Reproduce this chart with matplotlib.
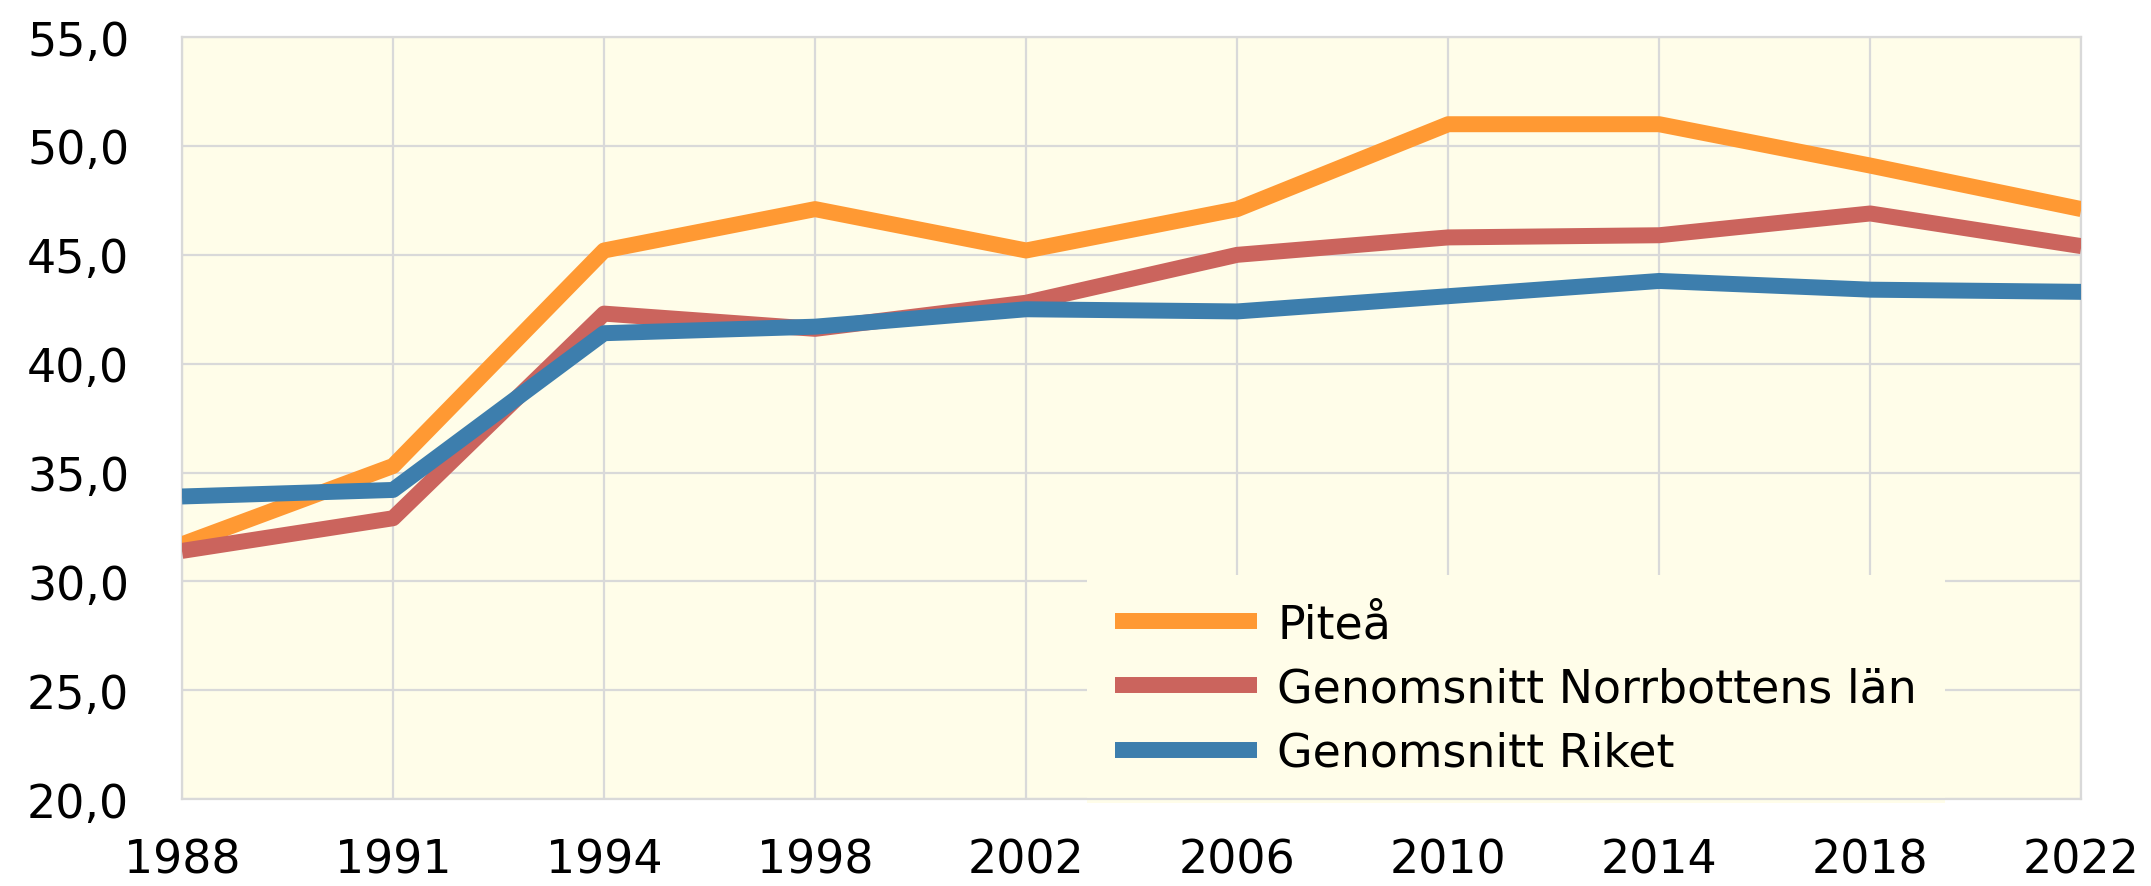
import matplotlib
matplotlib.use("Agg")
import matplotlib.pyplot as plt
import numpy as np

# data
years = ["1988", "1991", "1994", "1998", "2002", "2006", "2010", "2014", "2018", "2022"]
pitea = [31.7, 35.3, 45.2, 47.1, 45.2, 47.1, 51.0, 51.0, 49.1, 47.1]
norrbotten = [31.4, 32.9, 42.3, 41.6, 42.8, 45.0, 45.8, 45.9, 46.9, 45.4]
riket = [33.9, 34.2, 41.4, 41.7, 42.5, 42.4, 43.1, 43.8, 43.4, 43.3]
labels = ["Piteå", "Genomsnitt Norrbottens län", "Genomsnitt Riket"]
colors = ["#FF9933", "#CB645D", "#3D7EAD"]

plt.rcParams['font.family'] = ['DejaVu Sans']
bg = "#FFFDE9"
grid_c = "#D9D9D9"

fig = plt.figure(figsize=(21.51, 8.87), dpi=100)
ax = fig.add_axes([0.0846, 0.098, 0.883, 0.859])
ax.set_facecolor(bg)

x = np.arange(len(years))
for vals, lab, col in zip([pitea, norrbotten, riket], labels, colors):
    ax.plot(x, vals, color=col, lw=11.5, label=lab, solid_capstyle='butt', zorder=3)

ax.set_xlim(0, len(years) - 1)
ax.set_ylim(20, 55)
ax.set_xticks(x)
ax.set_xticklabels(years)
yt = np.arange(20, 56, 5)
ax.set_yticks(yt)
ax.set_yticklabels(["{:.1f}".format(v).replace(".", ",") for v in yt])
ax.tick_params(axis='both', length=0, labelsize=33, colors="#000000")
ax.tick_params(axis='y', pad=38)
ax.tick_params(axis='x', pad=28)
ax.grid(True, color=grid_c, lw=1.6, zorder=1)
for s in ax.spines.values():
    s.set_color(grid_c)
    s.set_linewidth(1.6)

leg = ax.legend(loc='upper left', bbox_to_anchor=(0.45, 0.2945), fontsize=33,
                frameon=True, facecolor=bg, edgecolor='none', framealpha=1,
                fancybox=False, handlelength=3.1, handletextpad=0.45,
                labelspacing=0.42, borderpad=0.6, borderaxespad=0)
leg.set_zorder(2)
# shift so the handle lines start where the reference has them
fig.canvas.draw()
leg.set_bbox_to_anchor((0.4766, 0.2945), transform=ax.transAxes)

fig.savefig("out.png", dpi=100)
